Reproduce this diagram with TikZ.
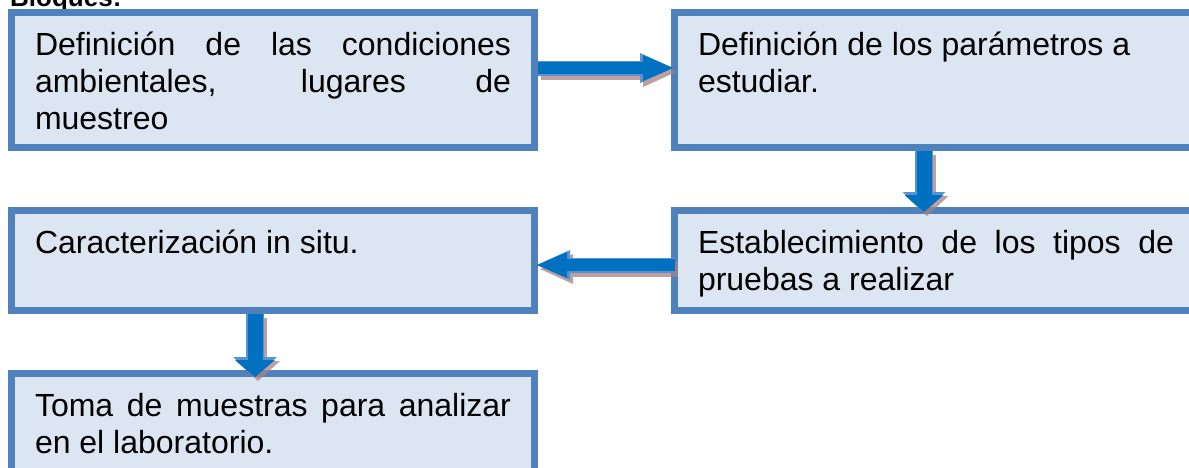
\documentclass[tikz,border=0pt]{standalone}
\usepackage{fontspec}
\setmainfont{Liberation Sans}
\usetikzlibrary{arrows.meta,calc}
\definecolor{boxline}{RGB}{79,129,189}
\definecolor{boxfill}{RGB}{220,230,242}
\definecolor{arrfill}{RGB}{0,112,192}
\definecolor{arredge}{RGB}{90,145,210}
\definecolor{arrshadow}{RGB}{170,128,128}
\newcommand\boxtxt[3][]{\begin{minipage}[t][#2][t]{476pt}#1\tolerance=10000 \hyphenpenalty=10000 \exhyphenpenalty=10000 \rule{0pt}{42.5pt}#3\end{minipage}}
\newcommand\blockarrow[5]{%
  \pgfmathsetmacro\baS{#3-3}\pgfmathsetmacro\baW{#4-4}\pgfmathsetmacro\baL{#5-3}%
  \draw[arrshadow, opacity=.75, line width=#3pt, -{Triangle[width=#4pt,length=#5pt,line width=0pt]}, transform canvas={shift={(3pt,-4pt)}}] #1 -- #2;
  \draw[arredge, line width=#3pt, -{Triangle[width=#4pt,length=#5pt,line width=0pt]}] #1 -- #2;
  \draw[arrfill, line width=\baS pt, -{Triangle[width=\baW pt,length=\baL pt,line width=0pt]}] #1 -- #2;
}
\tikzset{
  flowbox/.style={draw=boxline, fill=boxfill, line width=7pt, anchor=north west,
    inner xsep=23.5pt, inner ysep=0pt, minimum width=523pt,
    font=\fontsize{32}{37}\selectfont},
  heading/.style={anchor=base west, inner sep=0pt, font=\bfseries\fontsize{26}{30}\selectfont}
}
\begin{document}
\begin{tikzpicture}[x=1pt, y=-1pt]
\useasboundingbox (0,0) rectangle (1189,467);
\clip (0,0) rectangle (1189,467);
\fill[white] (0,0) rectangle (1189,467);
\node[heading] (bl) at (10,6) {Bloques:};
\node[flowbox, minimum height=135pt] (b1) at (8,9)
  {\boxtxt{135pt}{Definición de las condiciones\linebreak ambientales, lugares de\linebreak muestreo}};
\node[flowbox, minimum height=135pt] (b2) at (671,9)
  {\boxtxt[\raggedright]{135pt}{Definición de los parámetros a\\ estudiar.}};
\node[flowbox, minimum height=100pt] (b3) at (671,207)
  {\boxtxt{100pt}{Establecimiento de los tipos de\linebreak pruebas a realizar}};
\node[flowbox, minimum height=100pt] (b4) at (8,207)
  {\boxtxt{100pt}{Caracterización in situ.}};
\node[flowbox, minimum height=100pt] (b5) at (8,370)
  {\boxtxt{100pt}{Toma de muestras para analizar\linebreak en el laboratorio.}};
\blockarrow{($(b1.east)+(0,-12)$)}{($(b2.west)+(2,-12)$)}{15}{30}{33}
\blockarrow{($(b2.south)+(-12,0)$)}{($(b3.north)+(-12,5)$)}{18}{43}{20}
\blockarrow{($(b3.west)+(4,4.5)$)}{($(b4.east)+(-1,4.5)$)}{15}{30}{33}
\blockarrow{($(b4.south)+(-18,0)$)}{($(b5.north)+(-18,7)$)}{18}{44}{20}
\end{tikzpicture}
\end{document}
